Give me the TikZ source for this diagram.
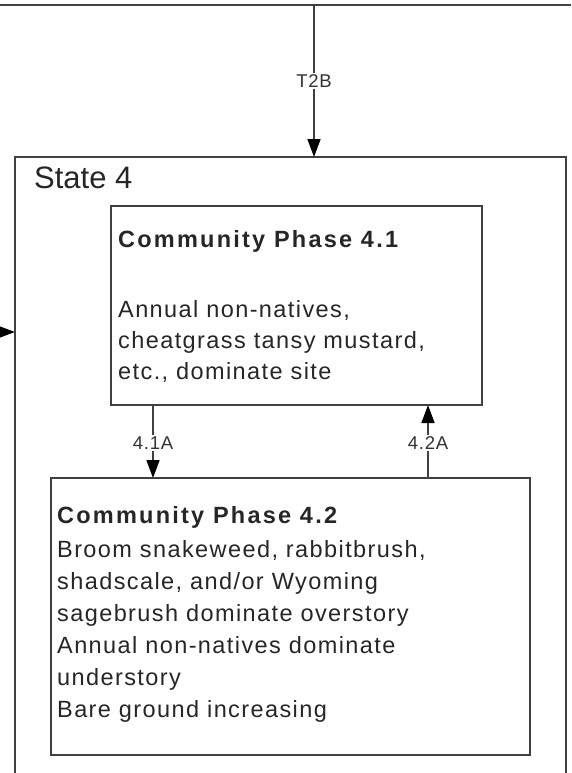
\documentclass[tikz,border=0pt]{standalone}
\usepackage{fontspec}
\setmainfont{Liberation Sans}
\newfontfamily\bodyf[LetterSpace=6]{Liberation Sans}
\newfontfamily\titlef[LetterSpace=9.5]{Liberation Sans}
\newfontfamily\lblf[LetterSpace=4]{Liberation Sans}
\usetikzlibrary{arrows.meta}
\begin{document}
\begin{tikzpicture}[x=1pt,y=-1pt,
  box/.style={draw=black!75,line width=1.6pt},
  conn/.style={draw=black!75,line width=1.6pt,-{Triangle[length=18pt,width=13pt,color=black]}},
  lbl/.style={fill=white,inner sep=1.5pt,font=\lblf\fontsize{18.5}{20}\selectfont,text=black!80},
  ln/.style={anchor=base west,inner sep=0pt,font=\bodyf\fontsize{23.5}{28}\selectfont,text=black!85},
  ttl/.style={anchor=base west,inner sep=0pt,font=\titlef\bfseries\fontsize{23.5}{28}\selectfont,text=black!85}]
\useasboundingbox (0,0) rectangle (571,773);
% top frame line
\draw[box] (0,5) -- (571,5);
\coordinate (topsrc) at (314,5);
% state 4 box (open at bottom)
\draw[box] (15,775) -- (15,157) -- (566,157) -- (566,775);
\coordinate (stateTop) at (314,157);
\coordinate (stateLeft) at (15,332);
\coordinate (leftsrc) at (-2,332);
\node[anchor=base west,inner sep=0pt,font=\fontsize{31}{34}\selectfont,text=black!85] (st) at (34,188) {State 4};
% phase boxes
\draw[box] (111,206) rectangle (482,405);
\coordinate (p1b1) at (153,405);
\coordinate (p1b2) at (428,405);
\draw[box] (51,478) rectangle (530,755);
\coordinate (p2t1) at (153,478);
\coordinate (p2t2) at (428,478);
\node[ttl] (t1) at (118,247) {Community Phase 4.1};
\node[ln] (t1a) at (118,317) {Annual non-natives,};
\node[ln] (t1b) at (118,348) {cheatgrass tansy mustard,};
\node[ln] (t1c) at (118,379) {etc., dominate site};
\node[ttl] (t2) at (57,523) {Community Phase 4.2};
\node[ln] (t2a) at (57,557) {Broom snakeweed, rabbitbrush,};
\node[ln] (t2b) at (57,589) {shadscale, and/or Wyoming};
\node[ln] (t2c) at (57,621) {sagebrush dominate overstory};
\node[ln] (t2d) at (57,653) {Annual non-natives dominate};
\node[ln] (t2e) at (57,685) {understory};
\node[ln] (t2f) at (57,717) {Bare ground increasing};
% connectors
\draw[conn] (topsrc) -- node[lbl,pos=0.5] {T2B} (stateTop);
\draw[conn] (leftsrc) -- (stateLeft);
\draw[conn] (p1b1) -- node[lbl,pos=0.52] {4.1A} (p2t1);
\draw[conn] (p2t2) -- node[lbl,pos=0.48] {4.2A} (p1b2);
\end{tikzpicture}
\end{document}
